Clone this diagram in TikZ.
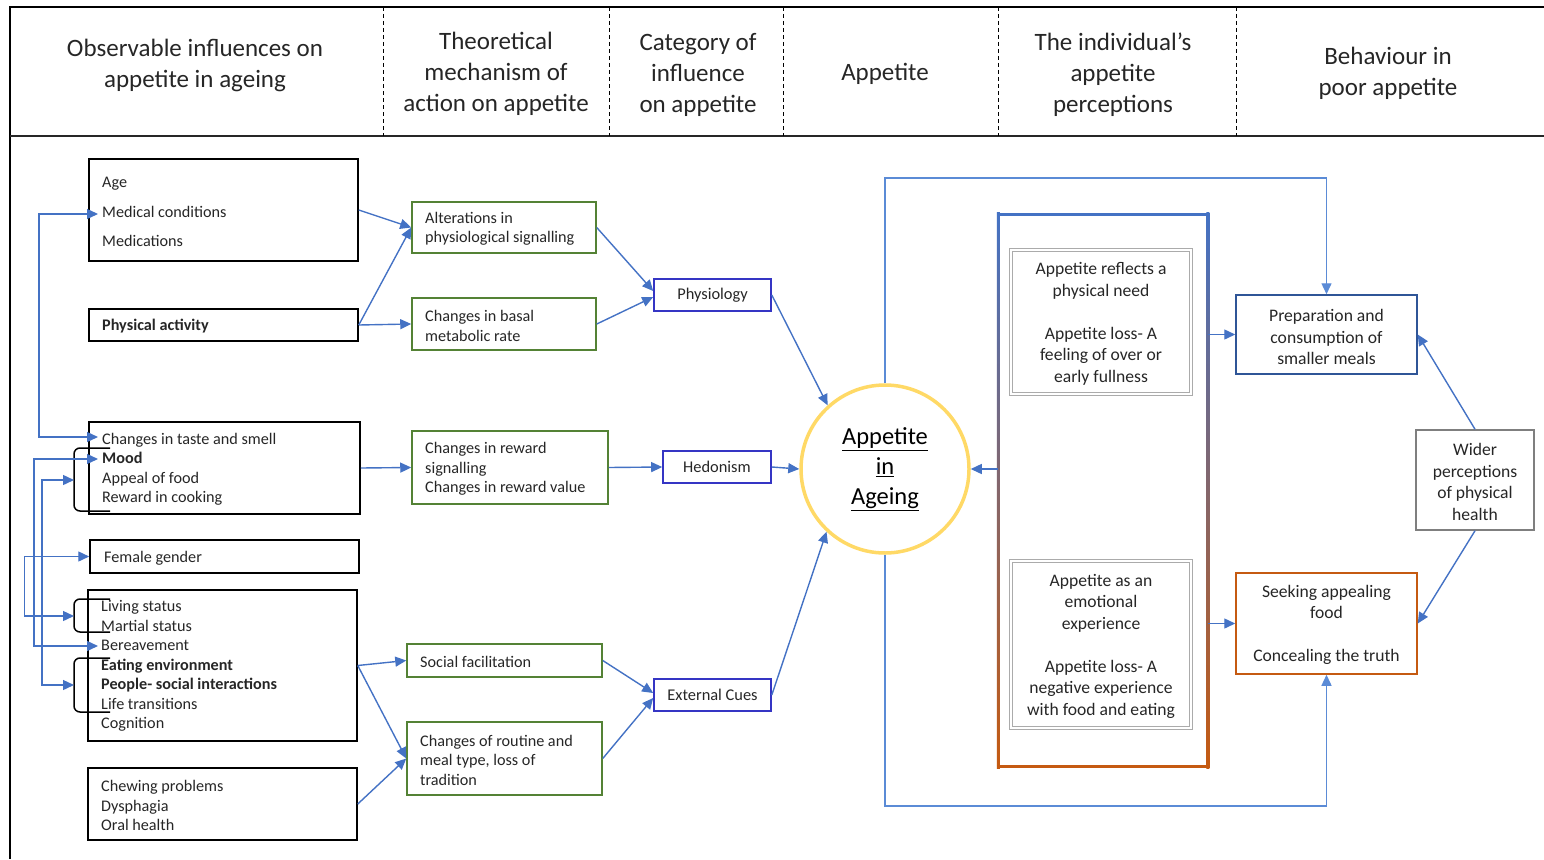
\documentclass[tikz,border=0pt]{standalone}
\usepackage{fontspec}
\setmainfont{Carlito}
\usetikzlibrary{arrows.meta,calc}
\definecolor{arrblue}{HTML}{4472C4}
\definecolor{loopblue}{HTML}{5B8BD6}
\definecolor{boxgreen}{HTML}{548235}
\definecolor{catblue}{HTML}{3535C4}
\definecolor{prepblue}{HTML}{2F5597}
\definecolor{orng}{HTML}{C55A11}
\definecolor{midgray}{HTML}{7F7F7F}
\definecolor{percgray}{HTML}{ABABAB}
\definecolor{gold}{HTML}{FFD966}
\definecolor{txt}{HTML}{262626}
\begin{document}
\begin{tikzpicture}[x=1pt,y=-1pt,
  tip/.tip={Triangle[length=11pt,width=10pt]},
  arr/.style={draw=arrblue, line width=1.4pt, -tip},
  looparr/.style={draw=loopblue, line width=1.4pt, -tip},
  both/.style={draw=arrblue, line width=1.4pt, tip-tip},
  sz/.style 2 args={minimum width=#1, minimum height=#2},
  box/.style={rectangle, inner sep=0pt, line width=1.5pt},
  leftbox/.style={box, draw=black},
  greenbox/.style={box, draw=boxgreen},
  catbox/.style={box, draw=catblue, line width=1.6pt, text=txt, font=\fontsize{16.4}{19.5}\selectfont},
  percbox/.style={box, draw=percgray, line width=0.9pt, double=white, double distance=1.8pt},
  items/.style={inner sep=0pt, anchor=west, align=left, text=txt, font=\fontsize{16.2}{19.5}\selectfont},
  ctext/.style={inner sep=0pt, align=center, text=txt, font=\fontsize{17.6}{21.5}\selectfont},
  hdr/.style={inner sep=0pt, align=center, text=txt, font=\fontsize{25}{31}\selectfont},
  brk/.style={draw=black, line width=1.5pt, rounded corners=6pt}
]
\useasboundingbox (0,0) rectangle (1544,859);

% header frame
\draw[line width=1.4pt] (1544,7) -- (10,7) -- (10,859);
\draw[line width=2pt, draw=black!85] (10,136) -- (1544,136);
\foreach \x in {383,609,783,998,1236}
  \draw[dashed, dash pattern=on 4pt off 3pt, line width=1pt] (\x,7) -- (\x,136);

\node[hdr] (h1) at (195,65) {Observable influences on\\appetite in ageing};
\node[hdr] (h2) at (496,74) {Theoretical\\mechanism of\\action on appetite};
\node[hdr] (h3) at (698,74.5) {Category of\\influence\\on appetite};
\node[hdr] (h4) at (885,74) {Appetite};
\node[hdr] (h5) at (1113,74.5) {The individual’s\\appetite\\perceptions};
\node[hdr] (h6) at (1388,73) {Behaviour in\\poor appetite};

% observable influences
\node[leftbox, sz={269pt}{102pt}] (A) at (223.5,210) {};
\node[items, font=\fontsize{16.2}{29.5}\selectfont] (tA) at (102,212) {Age\\Medical conditions\\Medications};
\node[leftbox, sz={269pt}{32pt}] (B) at (223.5,325) {};
\node[items] (tB) at (102,326) {\textbf{Physical activity}};
\node[leftbox, sz={271pt}{92pt}] (C) at (224.5,468) {};
\node[items] (tC) at (102,469.5) {Changes in taste and smell\\\textbf{Mood}\\Appeal of food\\Reward in cooking};
\node[leftbox, sz={269pt}{33pt}] (D) at (224.5,556.5) {};
\node[items] (tD) at (104,558) {Female gender};
\node[leftbox, sz={269pt}{151pt}] (E) at (222.5,665.5) {};
\node[items] (tE) at (101,666) {Living status\\Martial status\\Bereavement\\\textbf{Eating environment}\\\textbf{People- social interactions}\\Life transitions\\Cognition};
\node[leftbox, sz={269pt}{72pt}] (F) at (222.5,804) {};
\node[items] (tF) at (101,805.5) {Chewing problems\\Dysphagia\\Oral health};

% brackets grouping items
\draw[brk] (110,448) -- (74,448) -- (74,511) -- (110,511);
\draw[brk] (110,599) -- (74,599) -- (74,632) -- (110,632);
\draw[brk] (110,658) -- (74,658) -- (74,712) -- (110,712);

% links between influences
\coordinate (medc) at (98,214);
\coordinate (taste) at (98,437);
\coordinate (mood) at (98,459);
\coordinate (bereav) at (98,646);
\coordinate (brC) at (74,480);
\coordinate (brE1) at (74,616);
\coordinate (brE2) at (74,685);
\draw[both] (medc) -- ++(-59,0) |- (taste);
\draw[both] (mood) -- ++(-64,0) |- (bereav);
\draw[both] (brC) -- ++(-32,0) |- (brE2);
\draw[both] (D.west) -- ++(-65,0) |- (brE1);

% mechanisms
\node[greenbox, sz={184pt}{51pt}] (G1) at (504,227.5) {};
\node[items] (tG1) at (425,229) {Alterations in\\physiological signalling};
\node[greenbox, sz={184pt}{52pt}] (G2) at (504,324) {};
\node[items] (tG2) at (425,326) {Changes in basal\\metabolic rate};
\node[greenbox, sz={196pt}{73pt}] (G3) at (510,467.5) {};
\node[items] (tG3) at (425,469) {Changes in reward\\signalling\\Changes in reward value};
\node[greenbox, sz={195pt}{33pt}] (G4) at (504.5,660.5) {};
\node[items] (tG4) at (420,662) {Social facilitation};
\node[greenbox, sz={195pt}{73pt}] (G5) at (504.5,758.5) {};
\node[items] (tG5) at (420,760) {Changes of routine and\\meal type, loss of\\tradition};

% categories
\node[catbox, sz={117pt}{32pt}] (Phys) at (712.5,295) {Physiology};
\node[catbox, sz={108pt}{32pt}] (Hed) at (717,467) {Hedonism};
\node[catbox, sz={117pt}{32pt}] (Ext) at (712.5,695) {External Cues};

% central circle
\node[circle, draw=gold, line width=3.5pt, minimum size=168pt, inner sep=0pt, align=center, text=black,
      font=\fontsize{24.5}{30}\selectfont] (circ) at (885,469) {\underline{Appetite}\\\underline{in}\\\underline{Ageing}};

% perceptions frame with blue-to-orange border
\node[box, sz={208pt}{551pt}] (Big) at (1103,490.5) {};
\shade[top color=arrblue, bottom color=orng] ($(Big.north west)+(-1.5,-1.5)$) rectangle ($(Big.south west)+(1.5,1.5)$);
\shade[top color=arrblue, bottom color=orng] ($(Big.north east)+(-1.5,-1.5)$) rectangle ($(Big.south east)+(1.5,1.5)$);
\draw[draw=arrblue, line width=3pt] ($(Big.north west)+(-1.5,0)$) -- ($(Big.north east)+(1.5,0)$);
\draw[draw=orng, line width=3pt] ($(Big.south west)+(-1.5,0)$) -- ($(Big.south east)+(1.5,0)$);

\node[percbox, sz={180pt}{144pt}] (P1) at (1101,322) {};
\node[ctext] (tP1) at (1101,324) {Appetite reflects a\\physical need\\[21.5pt]Appetite loss- A\\feeling of over or\\early fullness};
\node[percbox, sz={180pt}{167pt}] (P2) at (1101,644.5) {};
\node[ctext] (tP2) at (1101,646) {Appetite as an\\emotional\\experience\\[21.5pt]Appetite loss- A\\negative experience\\with food and eating};

% behaviours
\node[box, draw=prepblue, sz={181pt}{79pt}] (Prep) at (1326.5,334.5) {};
\node[ctext] (tPrep) at (1326.5,337) {Preparation and\\consumption of\\smaller meals};
\node[box, draw=orng, sz={181pt}{101pt}] (Seek) at (1326.5,623.5) {};
\node[ctext] (tSeek) at (1326.5,625) {Seeking appealing\\food\\[21.5pt]Concealing the truth};
\node[box, draw=midgray, sz={118pt}{100pt}] (Wider) at (1475,480) {};
\node[ctext] (tWider) at (1475,482) {Wider\\perceptions\\of physical\\health};

% connectors: influences to mechanisms
\draw[arr] (A.east) -- (G1.west);
\draw[arr] (B.east) -- (G1.west);
\draw[arr] (B.east) -- (G2.west);
\draw[arr] (C.east) -- (G3.west);
\draw[arr] (E.east) -- (G4.west);
\draw[arr] (E.east) -- (G5.west);
\draw[arr] (F.east) -- (G5.west);

% mechanisms to categories
\draw[arr] (G1.east) -- ($(Phys.west)+(0,-4)$);
\draw[arr] (G2.east) -- ($(Phys.west)+(0,2)$);
\draw[arr] (G3.east) -- (Hed.west);
\draw[arr] (G4.east) -- ($(Ext.west)+(0,-2)$);
\draw[arr] (G5.east) -- ($(Ext.west)+(0,3)$);

% categories to appetite
\draw[arr] (Phys.east) -- (circ.132);
\draw[arr] (Hed.east) -- (circ.west);
\draw[arr] (Ext.east) -- (circ.227);

% perceptions to appetite and behaviours
\draw[arr] (Big.west |- circ.east) -- (circ.east);
\draw[arr] (Big.east |- Prep.west) -- (Prep.west);
\draw[arr] (Big.east |- Seek.west) -- (Seek.west);

% feedback loops from appetite to behaviours
\coordinate (topY) at (0,178);
\coordinate (botY) at (0,806);
\draw[looparr] (circ.north) -- (circ.north |- topY) -| (Prep.north);
\draw[looparr] (circ.south) -- (circ.south |- botY) -| (Seek.south);

% wider perceptions to behaviours
\draw[arr] (Wider.north) -- (Prep.east);
\draw[arr] (Wider.south) -- (Seek.east);
\end{tikzpicture}
\end{document}
